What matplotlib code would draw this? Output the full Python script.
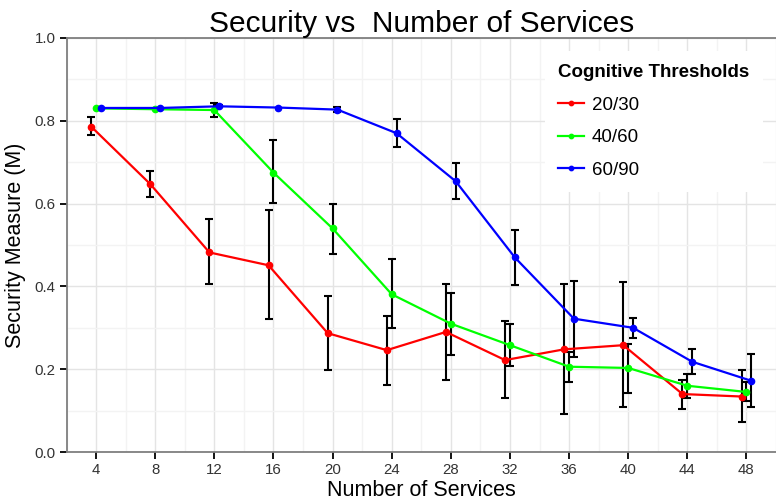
import numpy as np
import matplotlib.pyplot as plt
from matplotlib.ticker import MultipleLocator

plt.rcParams['font.family'] = ['Liberation Sans', 'DejaVu Sans']

# Data
services = [4, 8, 12, 16, 20, 24, 28, 32, 36, 40, 44, 48]
thresholds = ['20/30', '40/60', '60/90']
colors = ['#ff0000', '#00ff00', '#0000ff']

red_mean = [0.786, 0.647, 0.482, 0.451, 0.287, 0.246, 0.290, 0.222, 0.248, 0.258, 0.140, 0.134]
red_lo = [0.766, 0.616, 0.405, 0.321, 0.199, 0.162, 0.174, 0.131, 0.091, 0.109, 0.103, 0.072]
red_hi = [0.808, 0.679, 0.562, 0.584, 0.377, 0.329, 0.405, 0.316, 0.407, 0.410, 0.175, 0.197]

green_mean = [0.830, 0.828, 0.826, 0.675, 0.540, 0.381, 0.310, 0.258, 0.206, 0.203, 0.160, 0.145]
green_lo = [0.830, 0.828, 0.809, 0.601, 0.478, 0.300, 0.234, 0.208, 0.170, 0.142, 0.130, 0.122]
green_hi = [0.830, 0.828, 0.843, 0.753, 0.600, 0.465, 0.384, 0.310, 0.241, 0.262, 0.189, 0.169]

blue_mean = [0.831, 0.831, 0.835, 0.832, 0.827, 0.770, 0.654, 0.470, 0.322, 0.300, 0.218, 0.172]
blue_lo = [0.831, 0.831, 0.833, 0.832, 0.821, 0.736, 0.610, 0.404, 0.229, 0.276, 0.189, 0.109]
blue_hi = [0.831, 0.831, 0.837, 0.832, 0.833, 0.804, 0.698, 0.537, 0.413, 0.323, 0.248, 0.236]

means = [red_mean, green_mean, blue_mean]
lows = [red_lo, green_lo, blue_lo]
highs = [red_hi, green_hi, blue_hi]
dodge = [-0.33, 0.0, 0.33]

fig = plt.figure(figsize=(7.76, 5.0), dpi=100)
ax = fig.add_axes([66.5 / 776, 1 - 452 / 500, 1 - 66.5 / 776, (452 - 38) / 500])

x = np.array(services, dtype=float)
for i in range(3):
    m = np.array(means[i])
    lo = np.array(lows[i])
    hi = np.array(highs[i])
    xs = x + dodge[i]
    keep = (hi - lo) > 0.001  # no bar where the spread is invisible
    ax.errorbar(xs[keep], m[keep], yerr=[m[keep] - lo[keep], hi[keep] - m[keep]],
                fmt='none', ecolor='black', elinewidth=1.5, capsize=3.2, capthick=1.5, zorder=3)
    ax.plot(xs, m, '-', color=colors[i], lw=1.6, marker='o', ms=4.5,
            label=thresholds[i], zorder=4)

ax.set_xlim(2, 49.85)
ax.set_ylim(0, 1.0)
ax.set_xticks(services)
ax.set_xticks(np.arange(2, 51, 4), minor=True)
ax.yaxis.set_major_locator(MultipleLocator(0.2))
ax.yaxis.set_minor_locator(MultipleLocator(0.1))
ax.set_yticklabels([f'{v:.1f}' for v in ax.get_yticks()])

ax.grid(True, which='major', color='#e4e4e4', lw=1.0, zorder=0)
ax.grid(True, which='minor', color='#f3f3f3', lw=1.0, zorder=0)
ax.set_axisbelow(True)

for side in ['left', 'bottom', 'top']:
    ax.spines[side].set_color('#7f7f7f')
    ax.spines[side].set_linewidth(1.3)
ax.spines['right'].set_visible(False)
ax.tick_params(which='major', length=5, width=1.3, color='black',
               labelsize=10.8, labelcolor='#333333', pad=3)
ax.tick_params(which='minor', length=0)

ax.set_xlabel('Number of Services', fontsize=15.5, labelpad=2)
ax.set_ylabel('Security Measure (M)', fontsize=15.5, labelpad=6)
ax.set_title('Security vs  Number of Services', fontsize=21.5, pad=4)

leg = ax.legend(title='Cognitive Thresholds', loc='upper left',
                bbox_to_anchor=(545 / 776, 1 - 51 / 500), bbox_transform=fig.transFigure,
                borderaxespad=0,
                fontsize=13.5, title_fontproperties={'weight': 'bold', 'size': 13.5},
                frameon=True, fancybox=False, facecolor='white', edgecolor='none',
                framealpha=1, borderpad=0.7, handlelength=1.4, handletextpad=0.4,
                labelspacing=0.82, alignment='left', markerscale=0.7)
leg.set_zorder(5)

plt.savefig('out.png', dpi=100)
